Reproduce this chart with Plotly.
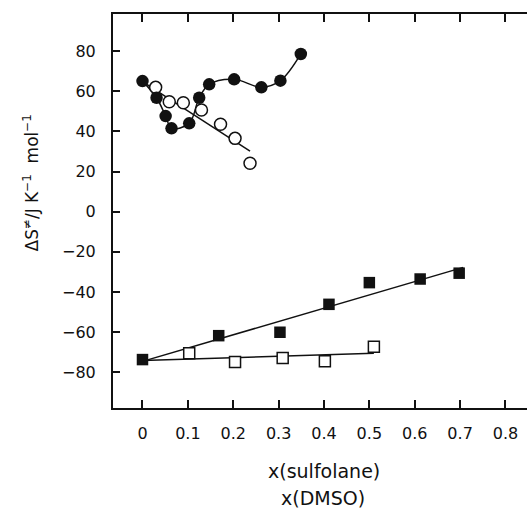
import plotly.graph_objects as go

# Filled circles: x(sulfolane)
fc_x = [0.0, 0.031, 0.051, 0.064, 0.103, 0.125, 0.147, 0.202, 0.262, 0.304, 0.349]
fc_y = [65.0, 56.7, 47.6, 41.5, 44.0, 56.7, 63.4, 65.9, 61.9, 65.2, 78.5]

# Open circles
oc_x = [0.029, 0.059, 0.090, 0.130, 0.172, 0.204, 0.237]
oc_y = [61.9, 54.7, 54.2, 50.6, 43.5, 36.5, 24.1]
oc_fit_x = [0.0, 0.237]
oc_fit_y = [64.7, 30.2]

# Filled squares: x(DMSO)
fs_x = [0.0, 0.168, 0.303, 0.411, 0.500, 0.612, 0.698]
fs_y = [-73.6, -61.7, -60.0, -46.1, -35.3, -33.5, -30.6]
fs_fit_x = [0.0, 0.707]
fs_fit_y = [-74.5, -27.7]

# Open squares
os_x = [0.103, 0.204, 0.309, 0.402, 0.510]
os_y = [-70.5, -74.8, -72.8, -74.4, -67.2]
os_fit_x = [0.0, 0.510]
os_fit_y = [-74.1, -70.5]

x_ticks = [0, 0.1, 0.2, 0.3, 0.4, 0.5, 0.6, 0.7, 0.8]
x_ticklabels = ["0", "0.1", "0.2", "0.3", "0.4", "0.5", "0.6", "0.7", "0.8"]
y_ticks = [-80, -60, -40, -20, 0, 20, 40, 60, 80]
y_ticklabels = ["\u221280", "\u221260", "\u221240", "\u221220", "0", "20", "40", "60", "80"]

BLACK = "#111111"
fig = go.Figure()

# fit lines
fig.add_trace(go.Scatter(x=fc_x, y=fc_y, mode="lines", line=dict(color=BLACK, width=1.5, shape="spline", smoothing=1.0), hoverinfo="skip"))
fig.add_trace(go.Scatter(x=oc_fit_x, y=oc_fit_y, mode="lines", line=dict(color=BLACK, width=1.5), hoverinfo="skip"))
fig.add_trace(go.Scatter(x=fs_fit_x, y=fs_fit_y, mode="lines", line=dict(color=BLACK, width=1.5), hoverinfo="skip"))
fig.add_trace(go.Scatter(x=os_fit_x, y=os_fit_y, mode="lines", line=dict(color=BLACK, width=1.5), hoverinfo="skip"))

# markers
fig.add_trace(go.Scatter(x=oc_x, y=oc_y, mode="markers",
                         marker=dict(symbol="circle", size=12, color="white", line=dict(color=BLACK, width=1.5))))
fig.add_trace(go.Scatter(x=fc_x, y=fc_y, mode="markers",
                         marker=dict(symbol="circle", size=12.5, color=BLACK, line=dict(color=BLACK, width=0))))
fig.add_trace(go.Scatter(x=os_x, y=os_y, mode="markers",
                         marker=dict(symbol="square", size=11, color="white", line=dict(color=BLACK, width=1.5))))
fig.add_trace(go.Scatter(x=fs_x, y=fs_y, mode="markers",
                         marker=dict(symbol="square", size=11.5, color=BLACK, line=dict(color=BLACK, width=0))))

fig.update_layout(
    width=527, height=508,
    margin=dict(l=113, r=0, t=14, b=100),
    paper_bgcolor="white", plot_bgcolor="white",
    showlegend=False,
    font=dict(family="DejaVu Sans", size=16, color=BLACK),
    xaxis=dict(range=[-0.065, 0.8475], tickvals=x_ticks, ticktext=x_ticklabels,
               ticks="inside", ticklen=8, tickwidth=1.5, tickcolor=BLACK,
               showline=True, linewidth=2, linecolor=BLACK, mirror="allticks",
               showgrid=False, zeroline=False, ticklabelstandoff=10, automargin=False),
    yaxis=dict(range=[-97.7, 98.4], tickvals=y_ticks, ticktext=y_ticklabels,
               ticks="inside", ticklen=7, tickwidth=1.5, tickcolor=BLACK,
               showline=True, linewidth=2, linecolor=BLACK,
               showgrid=False, zeroline=False, ticklabelstandoff=12, automargin=False),
    annotations=[
        dict(text="x(sulfolane)", xref="paper", yref="paper",
             x=0.5, xshift=4, y=0, yshift=-50, xanchor="center", yanchor="top",
             showarrow=False, font=dict(size=19, family="DejaVu Sans")),
        dict(text="x(DMSO)", xref="paper", yref="paper",
             x=0.5, xshift=3, y=0, yshift=-77, xanchor="center", yanchor="top",
             showarrow=False, font=dict(size=19, family="DejaVu Sans")),
        dict(text="\u0394S<sup>\u2260</sup>/J K<sup>\u22121</sup>  mol<sup>\u22121</sup>",
             xref="paper", yref="paper", x=0, xshift=-82, y=0.57,
             xanchor="center", yanchor="middle", textangle=-90,
             showarrow=False, font=dict(size=17, family="DejaVu Sans")),
    ],
)

fig.write_html("out.html", config={"displayModeBar": False},
               post_script="document.body.style.margin='0';document.body.style.overflow='hidden';")
